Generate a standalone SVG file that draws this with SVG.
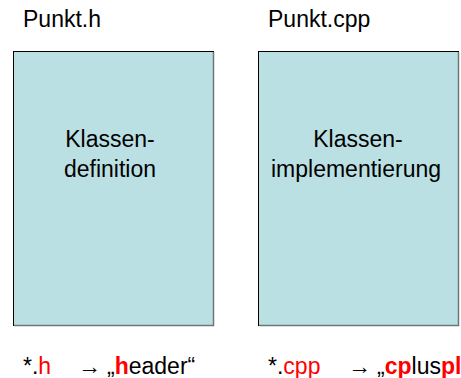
<svg xmlns="http://www.w3.org/2000/svg" width="461" height="378" viewBox="0 0 461 378">
<style>
text{font-family:"Liberation Sans",Arial,sans-serif;font-size:23px;fill:#000}
.box{fill:#BBE0E3;stroke:#000;stroke-width:1}
.sh{fill:none;stroke:#6E7778;stroke-width:1.5}
.r{fill:#FF0000}
.b{font-weight:bold}
</style>
<rect width="461" height="378" fill="#fff"/>
<g id="connectors"></g>
<g id="label-h"><text x="23" y="27">Punkt.h</text></g>
<g id="label-cpp"><text x="268" y="27">Punkt.cpp</text></g>
<g id="node-def">
<rect class="box" x="13.5" y="51.5" width="200" height="274"/>
<path class="sh" d="M213.5 52V325.5H14"/>
<text x="110" y="147" text-anchor="middle">Klassen-</text>
<text x="110" y="177" text-anchor="middle">definition</text>
</g>
<g id="node-impl">
<rect class="box" x="258.5" y="51.5" width="200" height="274"/>
<path class="sh" d="M458.5 52V325.5H259"/>
<text x="358" y="147" text-anchor="middle">Klassen-</text>
<text x="356" y="177" text-anchor="middle">implementierung</text>
</g>
<g id="note-h"><text y="374"><tspan x="23">*.</tspan><tspan class="r">h</tspan><tspan x="78">→</tspan><tspan x="107">„</tspan><tspan class="r b">h</tspan><tspan>eader“</tspan></text></g>
<g id="note-cpp"><text y="374"><tspan x="268">*.</tspan><tspan class="r">cpp</tspan><tspan x="348">→</tspan><tspan x="377">„</tspan><tspan class="r b">cp</tspan><tspan>lus</tspan><tspan class="r b">pl</tspan></text></g>
</svg>
